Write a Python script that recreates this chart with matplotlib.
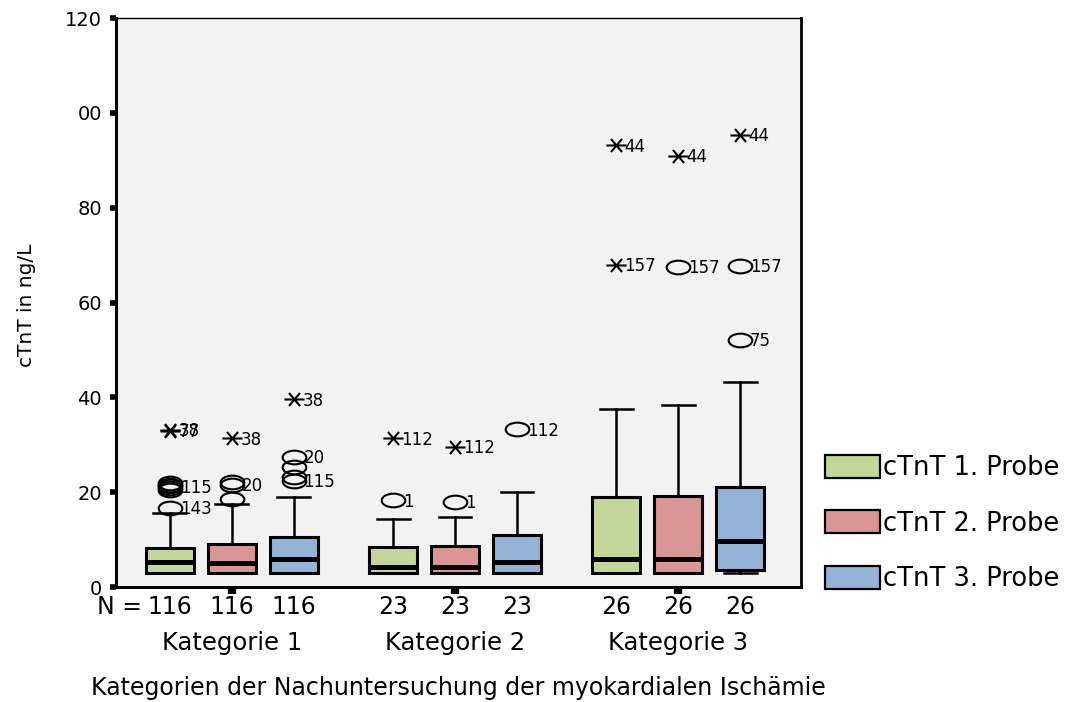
import matplotlib
matplotlib.use("Agg")
import matplotlib.pyplot as plt
from matplotlib.path import Path
from matplotlib.patches import Patch
from matplotlib.transforms import Affine2D

# data (ng/L)
groups = ["Kategorie 1", "Kategorie 2", "Kategorie 3"]
probes = ["cTnT 1. Probe", "cTnT 2. Probe", "cTnT 3. Probe"]
n_counts = [116, 23, 26]

# per box, order: K1 P1, K1 P2, K1 P3, K2 P1, ...
q1 = [3.0, 3.0, 3.0, 3.0, 3.0, 3.0, 3.0, 3.0, 3.6]
med = [5.3, 5.1, 6.0, 4.3, 4.3, 5.3, 5.9, 5.9, 9.7]
q3 = [8.2, 9.1, 10.6, 8.4, 8.6, 10.9, 19.0, 19.2, 21.1]
whislo = [3.0, 3.0, 3.0, 3.0, 3.0, 3.0, 3.0, 3.0, 3.0]
whishi = [15.6, 17.5, 19.0, 14.3, 14.8, 20.1, 37.5, 38.4, 43.2]

# outliers (circles) and extremes (stars): (box index, value, case label)
circles = [
    (0, 16.7, "143"), (0, 20.4, ""), (0, 20.8, ""), (0, 21.2, "115"),
    (0, 21.6, ""), (0, 22.0, ""),
    (1, 18.6, ""), (1, 21.6, "20"), (1, 22.1, ""),
    (2, 27.5, "20"), (2, 25.3, ""), (2, 23.3, ""), (2, 22.4, "115"),
    (3, 18.3, "1"), (4, 18.0, "1"), (5, 33.3, "112"),
    (7, 67.5, "157"), (8, 52.1, "75"), (8, 67.7, "157"),
]
stars = [
    (0, 33.1, "38"), (0, 33.0, "77"), (1, 31.4, "38"), (2, 39.6, "38"),
    (3, 31.4, "112"), (4, 29.6, "112"),
    (6, 68.0, "157"), (6, 93.2, "44"), (7, 90.9, "44"), (8, 95.4, "44"),
]

colors = ["#c4d79b", "#d99694", "#95b3d7"]

plt.rcParams["font.family"] = "DejaVu Sans"

fig = plt.figure(figsize=(10.84, 7.02), dpi=100)
ax = fig.add_axes([0.107, 0.1638, 0.6319, 0.8105])
ax.set_facecolor("#f2f2f2")

positions = []
for g in range(len(groups)):
    c = 2 + 3.6 * g
    positions += [c - 1, c, c + 1]

stats = []
for i in range(len(positions)):
    stats.append(dict(q1=q1[i], med=med[i], q3=q3[i],
                      whislo=whislo[i], whishi=whishi[i], fliers=[]))

bp = ax.bxp(stats, positions=positions, widths=0.78, capwidths=0.53,
            patch_artist=True, showfliers=False,
            boxprops=dict(linewidth=2.2, edgecolor="black"),
            medianprops=dict(color="black", linewidth=3.6),
            whiskerprops=dict(linewidth=1.8, color="black"),
            capprops=dict(linewidth=1.8, color="black"))
for i, box in enumerate(bp["boxes"]):
    box.set_facecolor(colors[i % 3])

# SPSS-like markers
ellipse = Path.unit_circle().transformed(Affine2D().scale(1, 0.58))
star = Path([(-1, 0), (1, 0), (-0.55, -0.65), (0.55, 0.65),
             (-0.55, 0.65), (0.55, -0.65)],
            [Path.MOVETO, Path.LINETO] * 3)

for idx, val, lab in circles:
    ax.plot(positions[idx], val, marker=ellipse, markersize=17,
            markerfacecolor="none", markeredgecolor="black",
            markeredgewidth=1.5, linestyle="none")
    if lab:
        ax.annotate(lab, (positions[idx], val), xytext=(7, -1),
                    textcoords="offset points", ha="left", va="center",
                    fontsize=12)
for idx, val, lab in stars:
    ax.plot(positions[idx], val, marker=star, markersize=14.5,
            markerfacecolor="none", markeredgecolor="black",
            markeredgewidth=1.5, linestyle="none")
    if lab:
        ax.annotate(lab, (positions[idx], val), xytext=(6, -1),
                    textcoords="offset points", ha="left", va="center",
                    fontsize=12)

ax.set_xlim(0.13, 11.18)
ax.set_ylim(0, 120)
ax.set_yticks([0, 20, 40, 60, 80, 100, 120])
ax.set_yticklabels(["0", "20", "40", "60", "80", "00", "120"], fontsize=14)
ax.set_xticks([2 + 3.6 * g for g in range(len(groups))])
ax.set_xticklabels([])
ax.tick_params(axis="y", length=4, width=4, pad=6)
ax.tick_params(axis="x", length=5, width=6)

ax.spines["left"].set_linewidth(2.2)
ax.spines["bottom"].set_linewidth(2.2)
ax.spines["right"].set_linewidth(2)
ax.spines["top"].set_linewidth(1)

# N row and group names below the axis
trans = ax.get_xaxis_transform()
ax.text(positions[0] - 0.45, -0.035, "N =", transform=trans,
        ha="right", va="center", fontsize=17)
for g, name in enumerate(groups):
    for k in range(3):
        ax.text(positions[3 * g + k], -0.035, str(n_counts[g]),
                transform=trans, ha="center", va="center", fontsize=17)
    ax.text(positions[3 * g + 1], -0.098, name, transform=trans,
            ha="center", va="center", fontsize=17.5)
ax.text(0.5, -0.178, "Kategorien der Nachuntersuchung der myokardialen Ischämie",
        transform=ax.transAxes, ha="center", va="center", fontsize=17)

fig.text(27 / 1084, 1 - 305 / 702, "cTnT in ng/L", rotation=90,
         ha="center", va="center", fontsize=14.5)

handles = [Patch(facecolor=c, edgecolor="black", linewidth=1.6) for c in colors]
fig.legend(handles, probes, loc="upper left",
           bbox_to_anchor=(825 / 1084, 1 - 455 / 702), frameon=False,
           fontsize=18.5, handlelength=2.14, handleheight=1.0,
           handletextpad=0.12, labelspacing=1.13, borderpad=0,
           borderaxespad=0)

fig.savefig("out.png", dpi=100)
